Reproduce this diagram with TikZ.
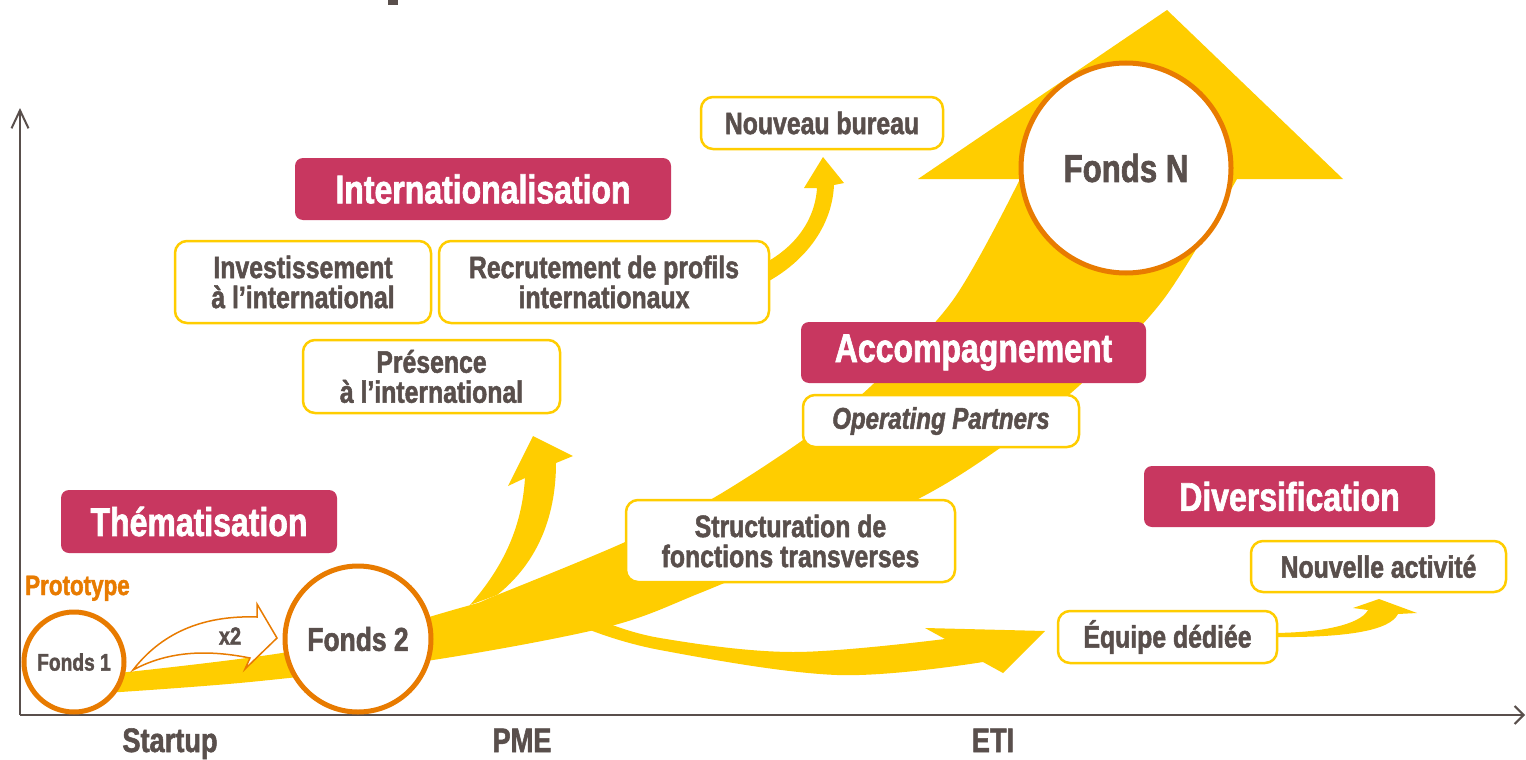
\documentclass[tikz,border=0pt]{standalone}
\usepackage{fontspec}
\setmainfont{Liberation Sans}[FakeStretch=0.8, BoldFeatures={FakeBold=1.6}, BoldItalicFeatures={FakeBold=1.6}]
\usetikzlibrary{arrows.meta}
\definecolor{textc}{RGB}{89,79,76}
\definecolor{ycol}{RGB}{255,205,0}
\definecolor{magc}{RGB}{200,55,96}
\definecolor{ocol}{RGB}{232,123,0}
\begin{document}
\begin{tikzpicture}[x=1pt,y=-1pt,
  lbl/.style={fill=magc, rounded corners=8pt, text=white, inner sep=0pt,
    font=\fontsize{40}{44}\selectfont\bfseries},
  ybox/.style={draw=ycol, line width=2.5pt, fill=white, rounded corners=12pt,
    text=textc, align=center, inner sep=0pt,
    font=\fontsize{31}{30}\selectfont\bfseries},
  fund/.style={circle, draw=ocol, line width=5pt, fill=white, text=textc, inner sep=0pt},
  axis/.style={draw=textc, line width=2pt},
  axlbl/.style={text=textc, anchor=base, inner sep=0pt, font=\fontsize{34}{36}\selectfont\bfseries}
]
\useasboundingbox (0,0) rectangle (1526,760);
\fill[white] (0,0) rectangle (1526,760);

% clipped piece at the top
\fill[textc] (388,0) rectangle (398,5);

% axes
\coordinate (O) at (20,715);
\coordinate (Ytop) at (20,108);
\coordinate (Xend) at (1525,715);
\draw[axis, -{Straight Barb[length=18pt,width=17pt,line width=2pt]}] (O) -- (Ytop);
\draw[axis, -{Straight Barb[length=9pt,width=18pt,line width=2pt]}] (O) -- (Xend);

% big yellow arrow
\fill[ycol] plot[smooth,tension=0.55] coordinates {(90,694) (250,682) (433,660) (607,627) (700,593) (810,546) (920,498) (1000,448) (1080,385) (1163,300) (1237,179)}
  -- (1343,179) -- (1167,10) -- (918,179) -- (1020,179)
  -- plot[smooth,tension=0.55] coordinates {(1020,179) (953,300) (870,387) (803,440) (710,500) (623,543) (497,595) (460,608) (300,650) (90,676)} -- cycle;

% branch down-right to Equipe dediee
\fill[ycol] plot[smooth,tension=0.6] coordinates {(585,628) (660,650) (837,675) (983,662)}
  -- (1003,673) -- (1045,631) -- (925,628)
  -- plot[smooth,tension=0.6] coordinates {(945,639) (793,652) (660,638) (600,620)} -- cycle;

% branch up to Presence
\fill[ycol] (470,605) .. controls (505,565) and (522,525) .. (525,478) -- (508,486) -- (533,436)
  -- (573,456) -- (556,463) .. controls (556,520) and (535,565) .. (497,595) -- cycle;

% branch up to Nouveau bureau
\fill[ycol] (755,268) .. controls (795,250) and (815,220) .. (817,188) -- (804,188) -- (823,157)
  -- (844,183) -- (834,185) .. controls (832,230) and (800,268) .. (755,288) -- cycle;

% branch Equipe -> Nouvelle activite
\fill[ycol] (1270,637) .. controls (1350,638) and (1390,630) .. (1398,614) -- (1417,613) -- (1379,599)
  -- (1353,608) -- (1368,610) .. controls (1360,625) and (1320,633) .. (1270,633) -- cycle;

% funds
\node[fund, minimum size=100pt, font=\fontsize{24}{26}\selectfont\bfseries] (f1) at (74,662) {Fonds 1};
\node[fund, minimum size=146pt, font=\fontsize{33}{35}\selectfont\bfseries] (f2) at (358,639) {Fonds 2};
\node[fund, minimum size=210pt, font=\fontsize{39}{41}\selectfont\bfseries] (fN) at (1126,168) {Fonds N};

% x2 outline arrow
\draw[draw=ocol, line width=1.5pt, fill=white, line join=miter]
  (133,670) .. controls (160,635) and (200,615) .. (257,617) -- (257,604) -- (277,638)
  -- (245,669) -- (250,658) .. controls (210,650) and (170,650) .. (133,670) -- cycle;
\node[text=textc, font=\fontsize{25}{27}\selectfont\bfseries, inner sep=0pt] (x2) at (230,636) {x2};

\node[text=ocol, anchor=base west, inner sep=0pt, font=\fontsize{28}{30}\selectfont\bfseries] (proto) at (25,595) {Prototype};

% white boxes
\node[ybox, minimum width=242pt, minimum height=52pt] (nb) at (822,123) {Nouveau bureau};
\node[ybox, minimum width=256pt, minimum height=82pt] (inv) at (303,282) {Investissement\\à l’international};
\node[ybox, minimum width=330pt, minimum height=82pt] (rec) at (604,282) {Recrutement de profils\\internationaux};
\node[ybox, minimum width=257pt, minimum height=73pt] (pres) at (431.5,376.5) {Présence\\à l’international};
\node[ybox, minimum width=276pt, minimum height=52pt, font=\fontsize{30}{30}\selectfont\bfseries\itshape] (op) at (941,421) {Operating Partners};
\node[ybox, minimum width=329pt, minimum height=82pt] (str) at (790.5,541) {Structuration de\\fonctions transverses};
\node[ybox, minimum width=255pt, minimum height=51pt] (na) at (1378.5,566.5) {Nouvelle activité};
\node[ybox, minimum width=219pt, minimum height=52pt] (eq) at (1167.5,637) {Équipe dédiée};

% magenta labels
\node[lbl, minimum width=376pt, minimum height=62pt] (intl) at (483,189) {Internationalisation};
\node[lbl, minimum width=345pt, minimum height=61pt] (acc) at (973.5,352.5) {Accompagnement};
\node[lbl, minimum width=276pt, minimum height=63pt] (them) at (199,521.5) {Thématisation};
\node[lbl, minimum width=291pt, minimum height=61pt] (div) at (1289.5,496.5) {Diversification};

% axis labels
\node[axlbl] (st) at (170,752) {Startup};
\node[axlbl] (pme) at (522,752) {PME};
\node[axlbl] (eti) at (993,752) {ETI};
\end{tikzpicture}
\end{document}
